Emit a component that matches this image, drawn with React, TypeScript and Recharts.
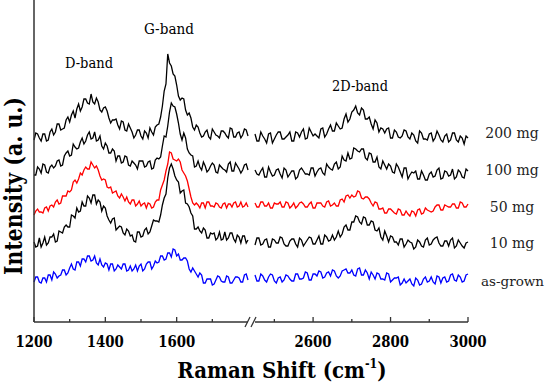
import React from 'react';
import { LineChart, Line, XAxis, YAxis } from 'recharts';

// Raman shift sampling (cm^-1): low-wavenumber window (D and G bands), 5 cm^-1 steps
const shiftLow = [
  1200, 1205, 1210, 1215, 1220, 1225, 1230, 1235, 1240, 1245,
  1250, 1255, 1260, 1265, 1270, 1275, 1280, 1285, 1290, 1295,
  1300, 1305, 1310, 1315, 1320, 1325, 1330, 1335, 1340, 1345,
  1350, 1355, 1360, 1365, 1370, 1375, 1380, 1385, 1390, 1395,
  1400, 1405, 1410, 1415, 1420, 1425, 1430, 1435, 1440, 1445,
  1450, 1455, 1460, 1465, 1470, 1475, 1480, 1485, 1490, 1495,
  1500, 1505, 1510, 1515, 1520, 1525, 1530, 1535, 1540, 1545,
  1550, 1555, 1560, 1565, 1570, 1575, 1580, 1585, 1590, 1595,
  1600, 1605, 1610, 1615, 1620, 1625, 1630, 1635, 1640, 1645,
  1650, 1655, 1660, 1665, 1670, 1675, 1680, 1685, 1690, 1695,
  1700, 1705, 1710, 1715, 1720, 1725, 1730, 1735, 1740, 1745,
  1750, 1755, 1760, 1765, 1770, 1775, 1780, 1785, 1790, 1795,
  1800,
];

// High-wavenumber window (2D band)
const shiftHigh = [
  2450, 2455, 2460, 2465, 2470, 2475, 2480, 2485, 2490, 2495,
  2500, 2505, 2510, 2515, 2520, 2525, 2530, 2535, 2540, 2545,
  2550, 2555, 2560, 2565, 2570, 2575, 2580, 2585, 2590, 2595,
  2600, 2605, 2610, 2615, 2620, 2625, 2630, 2635, 2640, 2645,
  2650, 2655, 2660, 2665, 2670, 2675, 2680, 2685, 2690, 2695,
  2700, 2705, 2710, 2715, 2720, 2725, 2730, 2735, 2740, 2745,
  2750, 2755, 2760, 2765, 2770, 2775, 2780, 2785, 2790, 2795,
  2800, 2805, 2810, 2815, 2820, 2825, 2830, 2835, 2840, 2845,
  2850, 2855, 2860, 2865, 2870, 2875, 2880, 2885, 2890, 2895,
  2900, 2905, 2910, 2915, 2920, 2925, 2930, 2935, 2940, 2945,
  2950, 2955, 2960, 2965, 2970, 2975, 2980, 2985, 2990, 2995,
  3000,
];

// Stacked intensities (a. u.), each spectrum offset vertically
const mg200Low = [
  182, 189, 188, 184, 181, 188, 188, 181, 182, 190,
  193, 187, 190, 198, 198, 192, 193, 194, 202, 205,
  200, 207, 211, 204, 213, 218, 211, 215, 223, 223,
  219, 218, 228, 220, 218, 224, 220, 212, 210, 214,
  215, 211, 204, 199, 202, 202, 203, 197, 193, 201,
  200, 192, 191, 198, 194, 190, 184, 187, 192, 192,
  186, 183, 191, 189, 184, 194, 190, 187, 195, 197,
  198, 205, 216, 231, 238, 268, 259, 256, 248, 246,
  237, 226, 222, 224, 223, 212, 207, 209, 204, 195,
  192, 197, 195, 189, 185, 186, 190, 192, 185, 183,
  193, 190, 187, 186, 184, 191, 191, 189, 186, 184,
  194, 193, 185, 185, 189, 190, 184, 187, 193, 192,
  186,
];
const mg200High = [
  188, 181, 181, 190, 186, 183, 179, 188, 189, 179,
  183, 187, 190, 190, 183, 183, 185, 187, 190, 181,
  181, 190, 189, 185, 190, 193, 183, 184, 194, 190,
  186, 188, 186, 184, 193, 194, 185, 188, 193, 197,
  191, 191, 199, 196, 193, 194, 203, 208, 200, 203,
  210, 212, 216, 209, 207, 214, 212, 203, 203, 205,
  198, 193, 202, 199, 190, 194, 193, 189, 193, 194,
  184, 184, 192, 190, 185, 184, 186, 192, 191, 185,
  183, 189, 187, 181, 179, 191, 189, 183, 183, 182,
  188, 189, 181, 184, 191, 187, 182, 180, 186, 188,
  180, 182, 189, 189, 182, 180, 186, 184, 178, 186,
  184,
];

const mg100Low = [
  147, 147, 155, 153, 149, 158, 157, 150, 149, 155,
  157, 154, 156, 161, 162, 156, 157, 166, 169, 171,
  166, 167, 178, 175, 173, 174, 180, 184, 178, 181,
  187, 190, 183, 184, 190, 181, 182, 186, 176, 173,
  179, 176, 169, 169, 173, 171, 161, 166, 166, 159,
  160, 166, 165, 157, 156, 161, 159, 157, 153, 161,
  161, 161, 155, 156, 160, 161, 153, 154, 162, 164,
  163, 165, 176, 186, 185, 196, 210, 219, 216, 215,
  208, 199, 188, 182, 189, 184, 173, 169, 167, 166,
  155, 156, 161, 155, 152, 160, 156, 150, 152, 156,
  159, 157, 150, 149, 157, 155, 153, 152, 150, 158,
  160, 151, 151, 159, 156, 153, 149, 152, 157, 158,
  152,
];
const mg100High = [
  152, 148, 147, 151, 154, 145, 145, 155, 150, 146,
  147, 152, 153, 148, 144, 154, 152, 145, 148, 151,
  151, 143, 145, 152, 154, 151, 148, 148, 147, 154,
  154, 146, 150, 153, 154, 149, 147, 158, 155, 153,
  152, 158, 160, 153, 155, 166, 162, 161, 169, 163,
  164, 174, 173, 171, 170, 173, 173, 164, 162, 169,
  168, 160, 160, 165, 155, 153, 161, 157, 153, 158,
  156, 150, 149, 158, 155, 150, 145, 154, 154, 143,
  147, 150, 149, 151, 143, 143, 151, 147, 142, 142,
  148, 150, 145, 146, 152, 154, 143, 144, 151, 150,
  146, 147, 153, 143, 145, 152, 150, 145, 144, 153,
  151,
];

const mg50Low = [
  107, 111, 113, 110, 110, 109, 114, 115, 111, 116,
  117, 115, 120, 122, 118, 119, 126, 126, 126, 131,
  130, 132, 140, 142, 139, 143, 149, 147, 152, 155,
  153, 153, 160, 157, 154, 156, 152, 146, 142, 143,
  142, 135, 134, 135, 129, 130, 131, 126, 124, 128,
  125, 121, 125, 120, 118, 122, 122, 116, 118, 121,
  116, 118, 119, 114, 119, 118, 114, 115, 120, 122,
  122, 132, 137, 142, 151, 158, 170, 169, 163, 162,
  161, 163, 160, 152, 149, 146, 141, 133, 125, 119,
  117, 119, 117, 114, 119, 119, 114, 120, 120, 116,
  116, 115, 119, 118, 115, 114, 118, 119, 114, 118,
  118, 115, 119, 120, 115, 116, 120, 115, 116, 119,
  115,
];
const mg50High = [
  119, 115, 115, 120, 120, 116, 116, 119, 114, 114,
  119, 118, 118, 120, 115, 115, 120, 119, 114, 116,
  119, 114, 116, 119, 120, 118, 115, 115, 118, 120,
  114, 114, 119, 119, 119, 116, 115, 120, 121, 116,
  117, 119, 116, 116, 122, 123, 120, 126, 127, 124,
  127, 125, 126, 131, 130, 124, 123, 125, 125, 123,
  119, 116, 120, 119, 113, 113, 114, 109, 109, 113,
  113, 111, 109, 108, 113, 112, 107, 107, 111, 108,
  106, 111, 110, 106, 112, 113, 108, 109, 114, 112,
  111, 110, 111, 115, 117, 117, 112, 112, 117, 116,
  115, 115, 118, 118, 114, 114, 120, 119, 115, 115,
  118,
];

const mg10Low = [
  80, 75, 76, 84, 75, 79, 85, 77, 79, 85,
  85, 88, 80, 81, 91, 90, 89, 95, 97, 95,
  95, 107, 106, 104, 114, 110, 111, 120, 116, 116,
  126, 124, 119, 127, 127, 118, 122, 120, 111, 116,
  114, 106, 102, 99, 103, 104, 92, 94, 96, 95,
  89, 87, 93, 91, 86, 87, 81, 80, 90, 90,
  85, 86, 92, 94, 88, 90, 96, 102, 101, 101,
  100, 107, 117, 124, 128, 144, 154, 158, 153, 146,
  142, 140, 129, 131, 132, 119, 118, 115, 109, 106,
  93, 93, 95, 91, 89, 94, 92, 84, 84, 89,
  88, 89, 82, 84, 90, 82, 83, 90, 82, 84,
  89, 89, 83, 80, 87, 85, 79, 86, 86, 79,
  82,
];
const mg10High = [
  77, 84, 84, 77, 78, 82, 83, 75, 75, 83,
  82, 79, 79, 85, 84, 78, 76, 76, 81, 83,
  83, 78, 75, 84, 82, 76, 79, 82, 85, 84,
  78, 78, 82, 86, 78, 78, 87, 85, 81, 82,
  87, 82, 85, 91, 85, 88, 95, 97, 92, 92,
  100, 100, 106, 105, 100, 98, 105, 104, 97, 97,
  101, 100, 92, 91, 94, 85, 82, 91, 86, 80,
  86, 85, 80, 80, 77, 83, 83, 75, 78, 82,
  80, 79, 73, 75, 82, 80, 76, 75, 82, 84,
  77, 78, 82, 84, 85, 79, 76, 76, 81, 81,
  76, 82, 84, 74, 76, 82, 79, 76, 74, 79,
  80,
];

const asGrownLow = [
  40, 45, 45, 40, 39, 44, 44, 40, 47, 47,
  42, 50, 48, 44, 46, 47, 52, 52, 47, 49,
  54, 58, 53, 52, 60, 60, 56, 63, 63, 60,
  66, 66, 61, 62, 66, 59, 57, 63, 57, 55,
  59, 58, 52, 58, 58, 51, 53, 57, 55, 53,
  58, 58, 51, 52, 56, 51, 53, 57, 51, 56,
  58, 51, 53, 58, 60, 60, 53, 56, 61, 59,
  60, 66, 66, 62, 63, 69, 69, 65, 73, 72,
  66, 68, 62, 62, 64, 64, 61, 53, 50, 54,
  51, 48, 45, 49, 47, 39, 39, 43, 43, 43,
  37, 38, 42, 46, 45, 41, 40, 40, 46, 45,
  39, 39, 42, 45, 45, 44, 40, 40, 47, 48,
  42,
];
const asGrownHigh = [
  47, 41, 41, 48, 46, 42, 40, 45, 48, 47,
  41, 39, 44, 45, 40, 42, 47, 46, 43, 41,
  41, 48, 48, 43, 43, 44, 50, 49, 42, 42,
  48, 48, 46, 51, 50, 44, 45, 49, 50, 46,
  52, 51, 46, 44, 46, 51, 52, 53, 49, 49,
  52, 47, 46, 53, 54, 47, 47, 52, 49, 43,
  50, 47, 43, 49, 48, 43, 43, 42, 49, 48,
  40, 42, 44, 44, 45, 37, 39, 43, 39, 41,
  43, 38, 36, 44, 42, 37, 38, 43, 45, 40,
  41, 45, 40, 38, 46, 45, 39, 44, 45, 40,
  41, 47, 48, 42, 41, 47, 45, 40, 41, 47,
  48,
];

const ticksLow = [1200, 1300, 1400, 1500, 1600, 1700, 1800];
const ticksHigh = [2500, 2600, 2700, 2800, 2900, 3000];
const labeledTicks = [1200, 1400, 1600, 2600, 2800, 3000];
const AXIS_BREAK = 1800;

const sampleNames = ['200 mg', '100 mg', '50 mg', '10 mg', 'as-grown'];
const bandNames = ['D-band', 'G-band', '2D-band'];

const W = 546;
const H = 390;
const Y_DOMAIN: [number, number] = [0, 322];
const AXIS_COLOR = '#333';
const SERIF = 'DejaVu Serif, serif';

const lowRows = shiftLow.map((x, i) => ({
  x,
  mg200: mg200Low[i],
  mg100: mg100Low[i],
  mg50: mg50Low[i],
  mg10: mg10Low[i],
  asGrown: asGrownLow[i],
}));
const highRows = shiftHigh.map((x, i) => ({
  x,
  mg200: mg200High[i],
  mg100: mg100High[i],
  mg50: mg50High[i],
  mg10: mg10High[i],
  asGrown: asGrownHigh[i],
}));

// Drawing order: black traces first, coloured ones on top
const series = [
  { key: 'mg200', color: '#000000' },
  { key: 'mg100', color: '#000000' },
  { key: 'mg10', color: '#000000' },
  { key: 'mg50', color: '#ff0000' },
  { key: 'asGrown', color: '#0000ff' },
];

const InwardTick = (props: any) => {
  const { x, y, payload } = props;
  const v = payload.value;
  if (v === AXIS_BREAK) {
    return (
      <g>
        <line x1={x - 3} y1={y + 5} x2={x + 2} y2={y - 5} stroke={AXIS_COLOR} strokeWidth={1.3} />
        <line x1={x + 3} y1={y + 5} x2={x + 8} y2={y - 5} stroke={AXIS_COLOR} strokeWidth={1.3} />
      </g>
    );
  }
  const major = labeledTicks.includes(v);
  return (
    <g>
      <line x1={x} y1={y} x2={x} y2={y - (major ? 5 : 3)} stroke={AXIS_COLOR} strokeWidth={1.3} />
      {major && (
        <text
          x={x}
          y={y + 25}
          textAnchor="middle"
          fontFamily={SERIF}
          fontWeight="bold"
          fontSize={16.5}
          textLength={37}
          lengthAdjust="spacingAndGlyphs"
          fill="#000"
        >
          {v}
        </text>
      )}
    </g>
  );
};

const renderLines = () =>
  series.map((s) => (
    <Line
      key={s.key}
      type="linear"
      dataKey={s.key}
      stroke={s.color}
      strokeWidth={1.3}
      dot={false}
      activeDot={false}
      isAnimationActive={false}
    />
  ));

const layer: React.CSSProperties = { position: 'absolute', left: 0, top: 0 };

export default function App() {
  return (
    <div style={{ position: 'absolute', left: 0, top: 0, width: W, height: H, background: '#fff' }}>
      <div style={layer}>
        <LineChart width={W} height={H} data={lowRows} margin={{ top: 0, right: 298, bottom: 0, left: 0 }}>
          <YAxis
            type="number"
            domain={Y_DOMAIN}
            width={34}
            tick={false}
            tickLine={false}
            axisLine={{ stroke: AXIS_COLOR, strokeWidth: 1.5 }}
          />
          <XAxis
            type="number"
            dataKey="x"
            domain={[1200, 1800]}
            ticks={ticksLow}
            interval={0}
            height={68}
            tickSize={0}
            tickMargin={0}
            tickLine={false}
            tick={InwardTick}
            axisLine={{ stroke: AXIS_COLOR, strokeWidth: 1.5 }}
          />
          {renderLines()}
        </LineChart>
      </div>
      <div style={layer}>
        <LineChart width={W} height={H} data={highRows} margin={{ top: 0, right: 78, bottom: 0, left: 255 }}>
          <YAxis type="number" domain={Y_DOMAIN} hide />
          <XAxis
            type="number"
            dataKey="x"
            domain={[2450, 3000]}
            ticks={ticksHigh}
            interval={0}
            height={68}
            tickSize={0}
            tickMargin={0}
            tickLine={false}
            tick={InwardTick}
            axisLine={{ stroke: AXIS_COLOR, strokeWidth: 1.5 }}
          />
          {renderLines()}
        </LineChart>
      </div>
      <svg width={W} height={H} style={{ ...layer, pointerEvents: 'none' }}>
        <g fontFamily={SERIF} fontSize={14.5} fill="#000">
          <text x={89} y={68} textAnchor="middle" textLength={48} lengthAdjust="spacingAndGlyphs">
            {bandNames[0]}
          </text>
          <text x={169} y={34} textAnchor="middle" textLength={50} lengthAdjust="spacingAndGlyphs">
            {bandNames[1]}
          </text>
          <text x={360} y={91} textAnchor="middle" textLength={56} lengthAdjust="spacingAndGlyphs">
            {bandNames[2]}
          </text>
        </g>
        <g fontFamily={SERIF} fontSize={14} fill="#222">
          <text x={512} y={138} textAnchor="middle">{sampleNames[0]}</text>
          <text x={512} y={175} textAnchor="middle">{sampleNames[1]}</text>
          <text x={512} y={212} textAnchor="middle">{sampleNames[2]}</text>
          <text x={512} y={248} textAnchor="middle">{sampleNames[3]}</text>
          <text x={481} y={286} fontSize={13.5}>{sampleNames[4]}</text>
        </g>
        <text
          transform="translate(22,186) rotate(-90)"
          textAnchor="middle"
          fontFamily={SERIF}
          fontWeight="bold"
          fontSize={24}
          textLength={178}
          lengthAdjust="spacingAndGlyphs"
          fill="#000"
        >
          Intensity (a. u.)
        </text>
        <g transform="translate(282,378) scale(0.86,1)">
          <text x={0} y={0} textAnchor="middle" fontFamily={SERIF} fontWeight="bold" fontSize={23} fill="#000">
            Raman Shift (cm<tspan fontSize={13} dy={-10}>-1</tspan><tspan dy={10}>)</tspan>
          </text>
        </g>
      </svg>
    </div>
  );
}
